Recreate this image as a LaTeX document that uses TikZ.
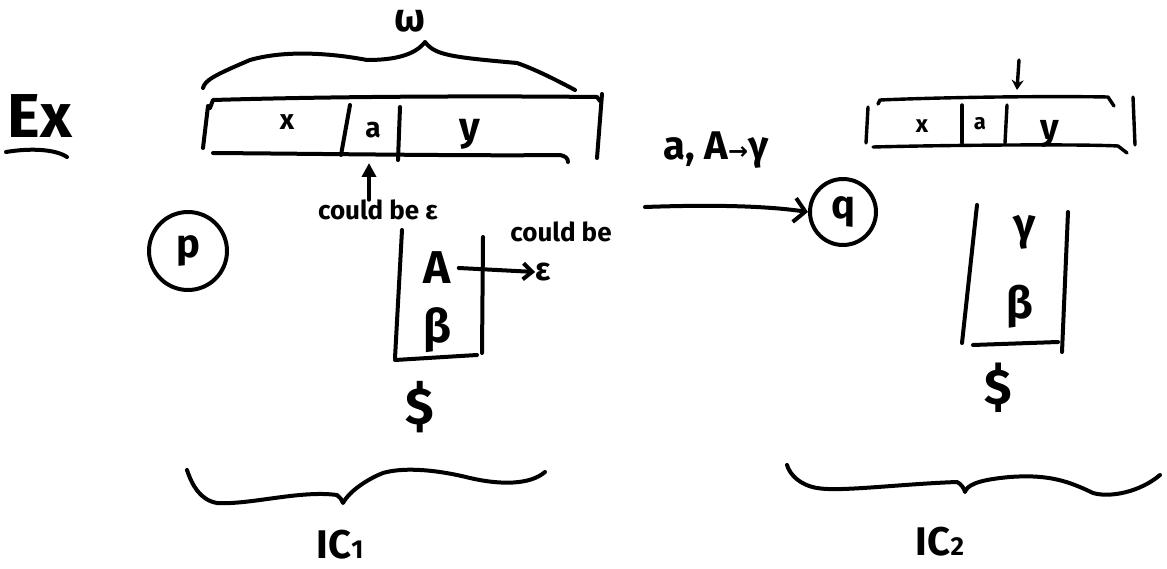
\documentclass[tikz,border=0pt]{standalone}
\usepackage{fontspec}
\setmainfont{Fira Sans}
\newfontfamily\symfont{DejaVu Sans}
\usetikzlibrary{arrows.meta}
\begin{document}
\begin{tikzpicture}[x=1pt,y=-1pt,line cap=round,line join=round,
  ink/.style={line width=4pt},
  inkthin/.style={line width=3.4pt},
  hand/.style={inner sep=0pt,font=\fontsize{#1}{#1}\selectfont\bfseries},
  statecirc/.style={circle,draw,line width=4pt,inner sep=0pt,font=\fontsize{40}{40}\selectfont\bfseries}]
\useasboundingbox (0,0) rectangle (1167,569);
\fill[white] (0,0) rectangle (1167,569);

% Ex
\node[hand=62] (ex) at (40,116) {Ex};
\draw[ink] (6,152) .. controls (30,148) and (55,149) .. (67,157);

% omega brace
\node[hand=40] (omega) at (410,21) {ω};
\draw[ink] (203,88) .. controls (205,80) and (215,75) .. (250,60)
  .. controls (285,50) and (330,53) .. (367,60)
  .. controls (395,60) and (415,55) .. (425,42)
  .. controls (435,55) and (450,57) .. (517,63)
  .. controls (537,70) and (560,82) .. (575,90);

% tape 1
\draw[ink] (210,108) -- (213,100) .. controls (350,96) and (500,96) .. (597,97) -- (600,101);
\draw[ink] (208,106) -- (203,148);
\draw[ink] (213,153) .. controls (340,154) and (480,156) .. (560,155) .. controls (565,156) and (568,158) .. (568,162);
\draw[ink] (602,94) -- (597,158);
\draw[ink] (350,105) -- (341,155);
\draw[ink] (400,107) -- (398,160);
\node[hand=28] (x1) at (287,122) {x};
\node[hand=28] (a1) at (373,130) {a};
\node[hand=40] (y1) at (470,134) {y};
\coordinate (acell) at (369,163);

% could be epsilon (input)
\node[hand=26] (cb1) at (378,210) {could be ε};
\draw[ink,-{Triangle[length=14pt,width=14pt]}] (cb1.north -| acell) -- (acell);

% state p
\node[statecirc,minimum size=78pt] (p) at (188,251) {p};

% stack 1
\draw[ink] (402,230) -- (395,358);
\draw[ink] (483,237) -- (482,353);
\draw[ink] (395,360) -- (477,355);
\node[hand=46] (A1) at (437,268) {A};
\node[hand=46] (B1) at (437,330) {β};
\node[hand=32] (eps1) at (543,272) {ε};
\node[hand=26] (cb2) at (561,232) {could be};
\draw[ink,-{Straight Barb[length=9pt,width=16pt]}] (A1.east) ++(8pt,0) coordinate (astart) (astart) -- (eps1.west);
\node[hand=52] (d1) at (420,407) {\$};

% IC1 brace
\draw[ink] (187,470) .. controls (192,485) and (200,500) .. (217,503)
  .. controls (250,505) and (300,490) .. (337,495)
  .. controls (340,497) and (342,500) .. (343,503)
  .. controls (350,490) and (370,478) .. (383,473)
  .. controls (400,468) and (430,468) .. (470,478)
  .. controls (500,485) and (530,485) .. (545,472);
\node[hand=40] (ic1) at (340,545) {IC{\fontsize{26}{26}\selectfont 1}};

% transition
\node[hand=40] (lab) at (716,150) {a, A{\symfont\fontsize{24}{24}\selectfont →}γ};
\coordinate (tr) at (645,207);
\node[statecirc,minimum size=66pt] (q) at (843,212) {q};
\draw[ink,-{Straight Barb[length=11pt,width=24pt]}] (tr) .. controls (700,205) and (760,205) .. (q.west);

% tape 2
\draw[inkthin] (878,104) -- (880,100) .. controls (950,97) and (1050,96) .. (1108,97) -- (1114,106);
\draw[inkthin] (868,107) -- (866,143);
\draw[inkthin] (873,147) .. controls (950,145) and (1080,144) .. (1118,146) -- (1127,153);
\draw[inkthin] (1133,97) -- (1135,145);
\draw[inkthin] (962,105) -- (962,143);
\draw[inkthin] (1007,105) -- (1005,143);
\node[hand=24] (x2) at (922,126) {x};
\node[hand=22] (a2) at (980,124) {a};
\node[hand=36] (y2) at (1050,134) {y};
\coordinate (head2) at (1017,90);
\coordinate (tail2) at (1019,60);
\draw[inkthin,-{Stealth[length=10pt,width=12pt]}] (tail2) -- (head2);

% stack 2
\draw[ink] (977,205) -- (962,343);
\draw[ink] (1068,212) -- (1062,352);
\draw[ink] (973,345) -- (1058,342);
\node[hand=44] (g2) at (1025,232) {γ};
\node[hand=44] (B2) at (1020,307) {β};
\node[hand=50] (d2) at (998,388) {\$};

% IC2 brace
\draw[ink] (787,465) .. controls (790,475) and (800,485) .. (817,488)
  .. controls (840,492) and (900,484) .. (957,482)
  .. controls (961,484) and (964,488) .. (965,492)
  .. controls (967,486) and (975,480) .. (1010,477)
  .. controls (1050,474) and (1070,482) .. (1093,493)
  .. controls (1110,498) and (1140,492) .. (1160,475);
\node[hand=40] (ic2) at (940,542) {IC{\fontsize{26}{26}\selectfont 2}};
\end{tikzpicture}
\end{document}
